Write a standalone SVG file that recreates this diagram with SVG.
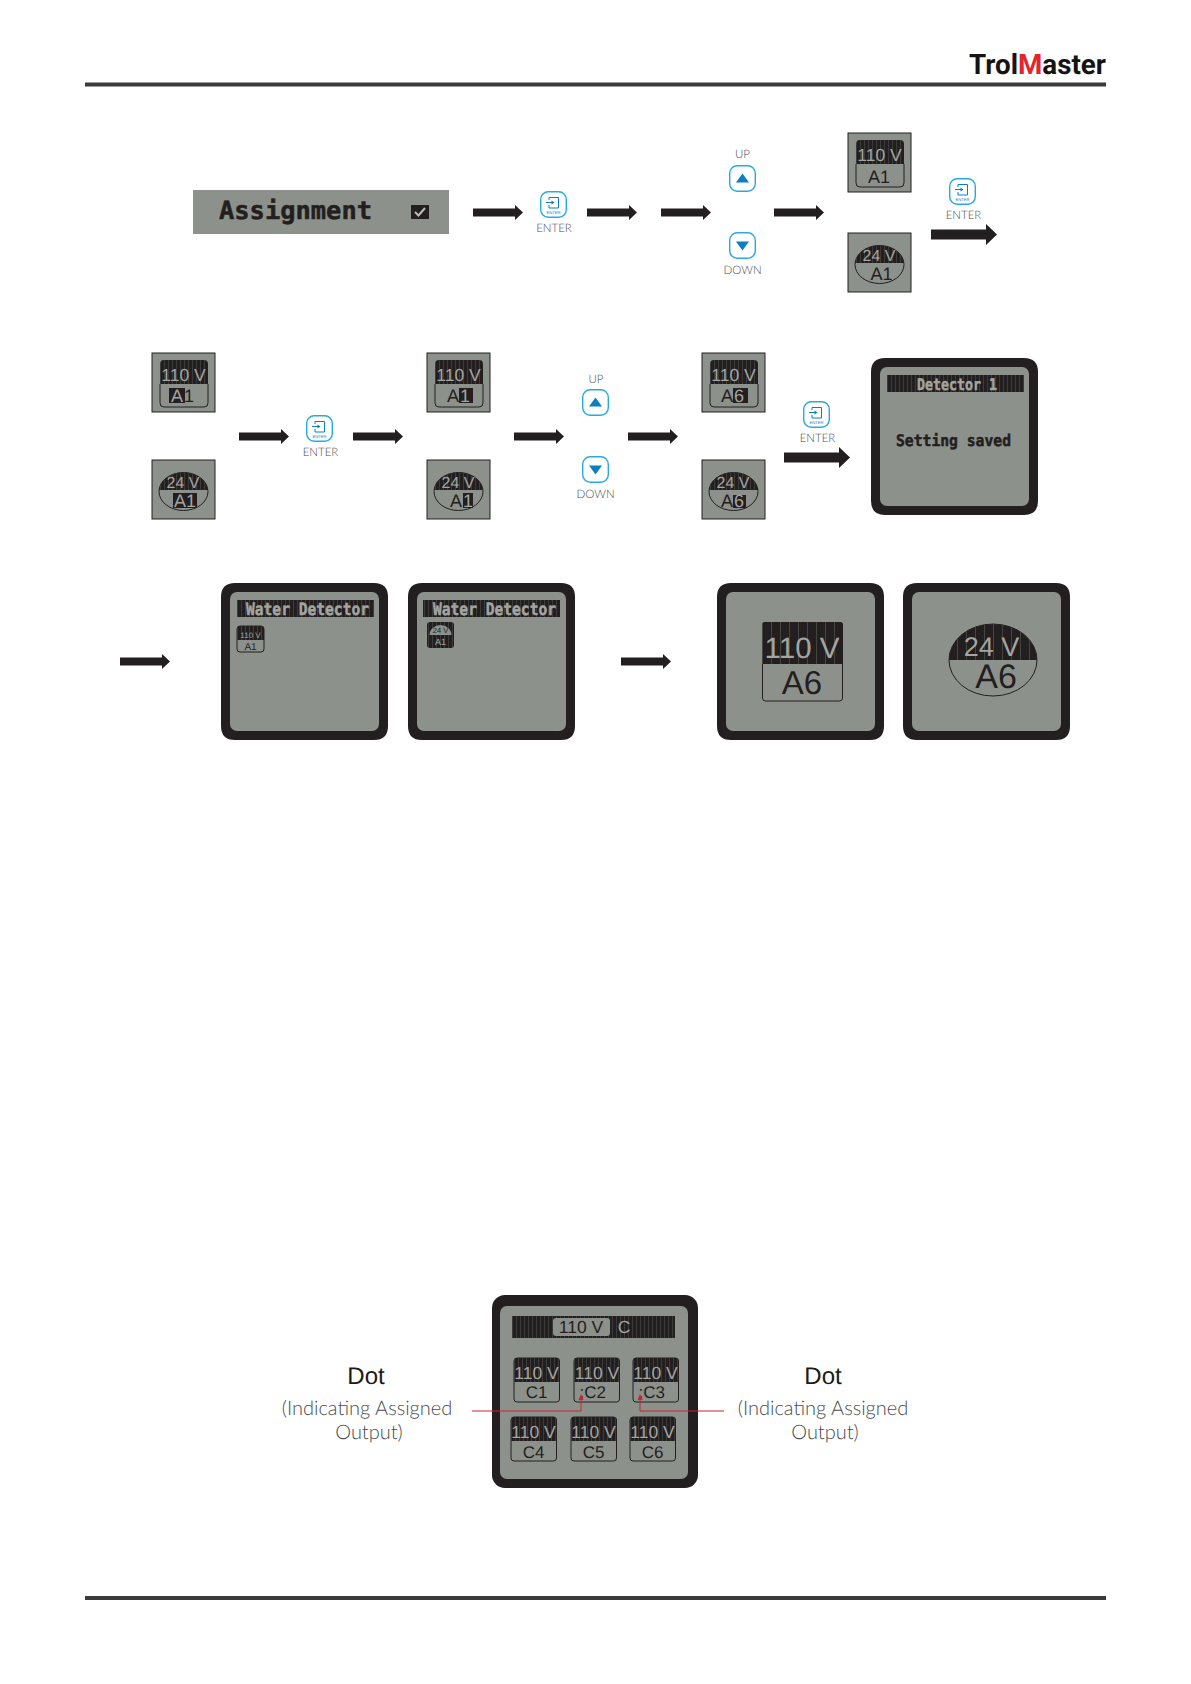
<svg xmlns="http://www.w3.org/2000/svg" xmlns:xlink="http://www.w3.org/1999/xlink" width="1191" height="1684" viewBox="0 0 1191 1684">
<style>
text{font-family:"Liberation Sans",Arial,sans-serif;text-rendering:geometricPrecision}
.lcd{fill:#8d918b}
.dk{fill:#231f20}
.lt{fill:#a3a5a0}
.m{text-anchor:middle}
.o{fill:none;stroke:#231f20;stroke-width:1}
.px{font-family:"DejaVu Sans Mono",monospace;font-weight:700;stroke-width:.5}
.pd{stroke:#231f20}
.pl{stroke:#a3a5a0}
.lab{font-family:Lato,sans-serif;font-weight:300;fill:#4a4c4e;text-anchor:middle}
.k{font-size:11.500px}
.btn{fill:#fff;stroke:#29a9e0;stroke-width:1.400}
.tri{fill:#0b7fc0}
.ic{fill:none;stroke:#0b7fc0;stroke-width:1}
.en{font-size:4.200px;fill:#0b7fc0;text-anchor:middle}
.u{font-size:17.500px}
.v{font-size:16px}
.c{font-size:17px}
.d{font-size:18px}
.red{fill:none;stroke:#c8242f;stroke-width:1}
</style>
<defs>
<pattern id="st" width="4" height="8" patternUnits="userSpaceOnUse"><rect width="4" height="8" fill="#231f20"/><rect width="1" height="8" fill="#3b3b39"/></pattern>
<pattern id="st2" width="9" height="8" patternUnits="userSpaceOnUse"><rect width="9" height="8" fill="#231f20"/><rect width="1" height="8" fill="#45453f"/></pattern>
<path id="a" d="M0-4H42V-7.500L50 0 42 7.500V4H0Z" fill="#231f20"/>
<path id="b" d="M0-5H55V-10.500L66 0 55 10.500V5H0Z" fill="#231f20"/>
<rect id="bt" x=".7" y=".7" width="25.600" height="25.600" rx="7.500" class="btn"/>
<g id="ei"><path d="M9 6.500H18.500V17H9V14" class="ic"/><path d="M9 6.500V9M6 11.500H13" class="ic"/><path d="M11.500 9.500 14.500 11.500 11.500 13.500Z" class="tri"/></g>
<clipPath id="ce"><ellipse cx="31.500" cy="31.500" rx="24.500" ry="19"/></clipPath>
<g id="t1"><rect width="63" height="59" class="lcd" stroke="#231f20" stroke-width="1"/><path d="M8 31V11Q8 7 12 7H52Q56 7 56 11V31Z" fill="url(#st)"/><path d="M8 31V50Q8 54 12 54H52Q56 54 56 50V31" class="o"/></g>
<g id="t2"><rect width="63" height="59" class="lcd" stroke="#231f20" stroke-width="1"/><ellipse cx="31.500" cy="31.500" rx="24.500" ry="19" class="o"/><rect x="7" y="12" width="50" height="18" fill="url(#st)" clip-path="url(#ce)"/></g>
<path id="sc" d="M14 0H153Q167 0 167 14V143Q167 157 153 157H14Q0 157 0 143V14Q0 0 14 0Z" fill="#231f20"/>
<rect id="si" x="9" y="9" width="149" height="139" rx="7" class="lcd"/>
<g id="ct"><rect width="45.500" height="44" rx="3" class="lcd" stroke="#231f20" stroke-width="1"/><path d="M0 24V3Q0 0 3 0H42.500Q45.500 0 45.500 3V24Z" fill="url(#st)"/></g>
</defs>

<g id="header">
<rect x="85" y="82.500" width="1021" height="4" fill="#3a3a3a"/>
<text x="969" y="74" font-size="28" font-weight="700" textLength="137" lengthAdjust="spacingAndGlyphs" style="font-family:Roboto,sans-serif" fill="#141414">Trol<tspan fill="#e4252b">M</tspan>aster</text>
</g>
<g id="footer"><rect x="85" y="1596" width="1021" height="4" fill="#3a3a3a"/></g>

<g id="assignment">
<rect x="193" y="190" width="256" height="44" fill="#8d918b"/>
<text x="219" y="219" class="px pd dk" font-size="25" textLength="153" lengthAdjust="spacingAndGlyphs">Assignment</text>
<rect x="411" y="205" width="18" height="14" fill="#231f20"/>
<path d="M415 212 418.500 215.500 425 208" fill="none" stroke="#b9bbb6" stroke-width="2"/>
</g>

<g id="enter1" transform="translate(540 191)"><use xlink:href="#bt"/><use xlink:href="#ei"/><text x="13.500" y="23" class="en">ENTER</text><text x="14" y="41" class="lab k">ENTER</text></g>
<g id="up1" transform="translate(729 165)"><use xlink:href="#bt"/><path d="M13.500 9 20 18H7Z" class="tri" transform="translate(0 -.5)"/><text x="13.500" y="-7" class="lab k">UP</text></g>
<g id="down1" transform="translate(729 232)"><use xlink:href="#bt"/><path d="M7 9.500H20L13.500 18.500Z" class="tri"/><text x="13.500" y="42" class="lab k">DOWN</text></g>
<g id="tile-110-a1-top" transform="translate(848 133)"><use xlink:href="#t1"/><text x="31.500" y="28" class="m lt u">110 V</text><text x="31" y="50" class="m dk d">A1</text></g>
<g id="tile-24-a1-top" transform="translate(848 233)"><use xlink:href="#t2"/><text x="31" y="28" class="m lt v">24 V</text><text x="33.500" y="47" class="m dk d">A1</text></g>
<g id="enter2" transform="translate(949 178)"><use xlink:href="#bt"/><use xlink:href="#ei"/><text x="13.500" y="23" class="en">ENTER</text><text x="14.500" y="41" class="lab k">ENTER</text></g>

<g id="tile-110-a1-sel-a" transform="translate(152 353)"><use xlink:href="#t1"/><text x="31.500" y="28" class="m lt u">110 V</text><rect x="17" y="35" width="16" height="15" class="dk"/><text x="19" y="49" class="lt d">A</text><text x="32" y="49" class="dk d">1</text></g>
<g id="tile-24-a1-sel" transform="translate(152 460)"><use xlink:href="#t2"/><text x="31" y="28" class="m lt v">24 V</text><rect x="21" y="33" width="24" height="15" class="dk"/><text x="22" y="47" class="lt d">A1</text></g>
<g id="enter3" transform="translate(306 415)"><use xlink:href="#bt"/><use xlink:href="#ei"/><text x="13.500" y="23" class="en">ENTER</text><text x="14.500" y="41" class="lab k">ENTER</text></g>
<g id="tile-110-a1-sel-1" transform="translate(427 353)"><use xlink:href="#t1"/><text x="31.500" y="28" class="m lt u">110 V</text><rect x="32" y="35" width="14" height="15" class="dk"/><text x="20" y="49" class="dk d">A</text><text x="33" y="49" class="lt d">1</text></g>
<g id="tile-24-a1-sel-1" transform="translate(427 460)"><use xlink:href="#t2"/><text x="31" y="28" class="m lt v">24 V</text><rect x="36" y="33" width="10" height="15" class="dk"/><text x="23" y="47" class="dk d">A</text><text x="36" y="47" class="lt d">1</text></g>
<g id="up2" transform="translate(582 389)"><use xlink:href="#bt"/><path d="M13.500 9 20 18H7Z" class="tri" transform="translate(0 -.5)"/><text x="14" y="-6" class="lab k">UP</text></g>
<g id="down2" transform="translate(582 456)"><use xlink:href="#bt"/><path d="M7 9.500H20L13.500 18.500Z" class="tri"/><text x="13.500" y="42" class="lab k">DOWN</text></g>
<g id="tile-110-a6" transform="translate(702 353)"><use xlink:href="#t1"/><text x="31.500" y="28" class="m lt u">110 V</text><rect x="31" y="35" width="15" height="15" class="dk"/><text x="19" y="49" class="dk d">A</text><text x="32" y="49" class="lt d">6</text></g>
<g id="tile-24-a6" transform="translate(702 460)"><use xlink:href="#t2"/><text x="31" y="28" class="m lt v">24 V</text><rect x="31" y="35" width="13" height="13" class="dk"/><text x="19" y="47" class="dk d">A</text><text x="32" y="47" class="lt d">6</text></g>
<g id="enter4" transform="translate(803 401)"><use xlink:href="#bt"/><use xlink:href="#ei"/><text x="13.500" y="23" class="en">ENTER</text><text x="14.500" y="41" class="lab k">ENTER</text></g>

<g id="saved" transform="translate(871 358)"><use xlink:href="#sc"/><use xlink:href="#si"/><rect x="16" y="17" width="137" height="17" fill="url(#st)"/>
<text x="46" y="32" class="px pl lt" font-size="16" textLength="80" lengthAdjust="spacingAndGlyphs">Detector 1</text>
<text x="25" y="88" class="px pd dk" font-size="16" textLength="115" lengthAdjust="spacingAndGlyphs">Setting saved</text></g>

<g id="water1" transform="translate(221 583)"><use xlink:href="#sc"/><use xlink:href="#si"/><rect x="16" y="17" width="137" height="17" fill="url(#st)"/>
<text x="25" y="32" class="px pl lt" font-size="17" textLength="123" lengthAdjust="spacingAndGlyphs">Water Detector</text>
<rect x="16" y="43" width="27" height="26" rx="3" class="lcd" stroke="#231f20"/><path d="M16 57V46Q16 43 19 43H40Q43 43 43 46V57Z" fill="url(#st)"/>
<text x="29.500" y="55" class="m lt" font-size="8">110 V</text><text x="29.500" y="66.500" class="m dk" font-size="10">A1</text></g>
<g id="water2" transform="translate(408 583)"><use xlink:href="#sc"/><use xlink:href="#si"/><rect x="15" y="17" width="137" height="17" fill="url(#st)"/>
<text x="25" y="32" class="px pl lt" font-size="17" textLength="123" lengthAdjust="spacingAndGlyphs">Water Detector</text>
<rect x="19" y="39" width="27" height="26" rx="3" fill="url(#st)"/><path d="M21.500 52A11 10 0 0 1 43.500 52Z" fill="#8d918b"/>
<text x="32.500" y="50" class="m dk" font-size="7.500">24 V</text><text x="32.500" y="62" class="m lt" font-size="9">A1</text></g>
<g id="big110" transform="translate(717 583)"><use xlink:href="#sc"/><use xlink:href="#si"/><rect x="45.500" y="39.500" width="80" height="78.500" rx="3" class="lcd" stroke="#231f20"/><path d="M45 81V42Q45 39 48 39H123Q126 39 126 42V81Z" fill="url(#st2)"/>
<text x="85" y="74.500" class="m lt" font-size="29.500">110 V</text><text x="85" y="111" class="m dk" font-size="33">A6</text></g>
<g id="big24" transform="translate(903 583)"><use xlink:href="#sc"/><use xlink:href="#si"/><ellipse cx="90" cy="77" rx="44" ry="36" class="o"/><path d="M46 77A44 36 0 0 1 134 77Z" fill="url(#st2)"/>
<text x="88.500" y="73" class="m lt" font-size="27">24 V</text><text x="93" y="105" class="m dk" font-size="34">A6</text></g>

<g id="output-screen">
<rect x="492" y="1295" width="206" height="193" rx="13" fill="#231f20"/><rect x="500" y="1306" width="188" height="173" rx="7" class="lcd"/>
<rect x="512" y="1316" width="163" height="22" fill="url(#st)"/><rect x="553" y="1318" width="57" height="18" rx="3" class="lcd"/>
<text x="581" y="1333" class="m dk u">110 V</text><text x="624" y="1333" class="m lt u">C</text>
</g>
<g id="c1" transform="translate(514 1358)"><use xlink:href="#ct"/><text x="22.500" y="20.500" class="m lt u">110 V</text><text x="22.500" y="40" class="m dk c">C1</text></g>
<g id="c2" transform="translate(574 1358)"><use xlink:href="#ct"/><text x="23" y="20.500" class="m lt u">110 V</text><text x="5.500" y="40" class="dk c">:C2</text></g>
<g id="c3" transform="translate(633 1358)"><use xlink:href="#ct"/><text x="22.500" y="20.500" class="m lt u">110 V</text><text x="5.500" y="40" class="dk c">:C3</text></g>
<g id="c4" transform="translate(511 1417)"><use xlink:href="#ct"/><text x="22.500" y="20.500" class="m lt u">110 V</text><text x="22.500" y="41" class="m dk c">C4</text></g>
<g id="c5" transform="translate(571 1417)"><use xlink:href="#ct"/><text x="22.500" y="20.500" class="m lt u">110 V</text><text x="22.500" y="41" class="m dk c">C5</text></g>
<g id="c6" transform="translate(630 1417)"><use xlink:href="#ct"/><text x="22.500" y="20.500" class="m lt u">110 V</text><text x="22.500" y="41" class="m dk c">C6</text></g>

<g id="dot-left"><text x="366" y="1384" class="m" font-size="24" fill="#1a1a1a">Dot</text><text x="367" y="1415" class="lab" font-size="20">(Indicating Assigned</text><text x="369" y="1439" class="lab" font-size="20">Output)</text></g>
<g id="dot-right"><text x="823" y="1384" class="m" font-size="24" fill="#1a1a1a">Dot</text><text x="823" y="1415" class="lab" font-size="20">(Indicating Assigned</text><text x="825" y="1439" class="lab" font-size="20">Output)</text></g>

<g id="connectors">
<use xlink:href="#a" x="473" y="212.500"/><use xlink:href="#a" x="587" y="212.500"/><use xlink:href="#a" x="661" y="212.500"/><use xlink:href="#a" x="774" y="212.500"/><use xlink:href="#b" x="931" y="234.500"/>
<use xlink:href="#a" x="239" y="436.500"/><use xlink:href="#a" x="353" y="436.500"/><use xlink:href="#a" x="514" y="436.500"/><use xlink:href="#a" x="628" y="436.500"/><use xlink:href="#b" x="784" y="457.500"/>
<use xlink:href="#a" x="120" y="661.500"/><use xlink:href="#a" x="621" y="661.500"/>
<path d="M472 1411H581V1399" class="red"/><path d="M724 1411H640V1399" class="red"/>
<path d="M581 1394 578.500 1400H583.500ZM640 1394 637.500 1400H642.500Z" fill="#d4202e"/>
</g>
</svg>
